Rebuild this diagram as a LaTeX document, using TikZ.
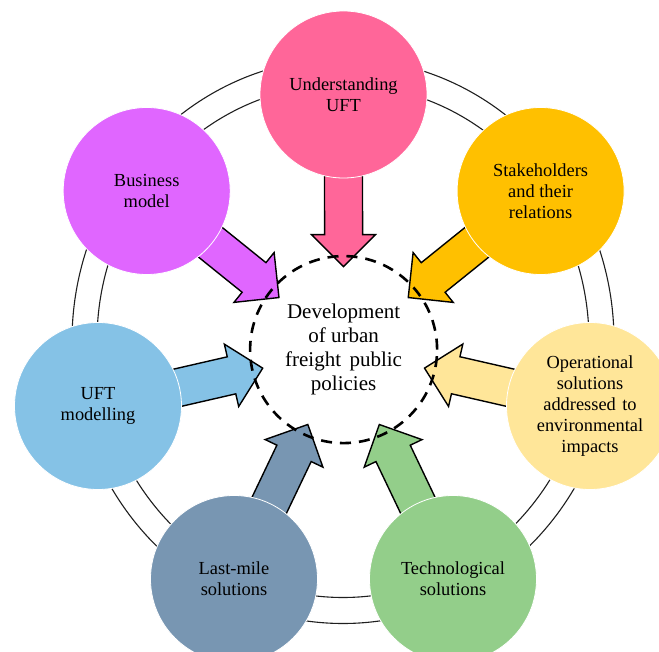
\documentclass[tikz,border=0pt]{standalone}
\usepackage{fontspec}
\setmainfont{Liberation Serif}
\usetikzlibrary{calc}
\pgfdeclarelayer{bg}
\pgfsetlayers{bg,main}
\definecolor{cpink}{RGB}{255,102,153}
\definecolor{cmagenta}{RGB}{224,102,255}
\definecolor{camber}{RGB}{255,192,0}
\definecolor{cpale}{RGB}{255,230,153}
\definecolor{csky}{RGB}{133,194,230}
\definecolor{cslate}{RGB}{120,150,178}
\definecolor{cgreen}{RGB}{147,206,138}
\tikzset{
  topic/.style={circle, minimum size=167pt, inner sep=0pt, draw=white, line width=0.8pt,
    align=center, font=\fontsize{18.4}{21}\selectfont, text=black},
  core/.style={circle, minimum size=187pt, inner sep=0pt, draw=black, line width=2.6pt,
    dash pattern=on 11pt off 8pt, align=center, font=\fontsize{21}{24}\selectfont},
  blockarr/.style={draw=black, line width=1.4pt, line join=miter},
  ringline/.style={draw=black!88, line width=1.1pt}
}
\newcommand{\blockarrow}[3]{%
  \coordinate (#3tip) at ($(D)!83pt!(#1)$);
  \coordinate (#3hb) at ($(#3tip)!32pt!(#1)$);
  \coordinate (#3tl) at ($(#3tip)!150pt!(#1)$);
  \filldraw[blockarr, fill=#2] (#3tip) -- ($(#3hb)!32pt!90:(#1)$) -- ($(#3hb)!19pt!90:(#1)$)
    -- ($(#3tl)!19pt!90:(#1)$) -- ($(#3tl)!19pt!-90:(#1)$) -- ($(#3hb)!19pt!-90:(#1)$)
    -- ($(#3hb)!32pt!-90:(#1)$) -- cycle;
}
\begin{document}
\begin{tikzpicture}[x=1pt,y=-1pt]
\useasboundingbox (0,0) rectangle (659,652);
\coordinate (R) at (343,341);
\node[core] (D) at (343.6,349.6) {Development\\of urban\\freight\hspace{0.4em}public\\policies};
\node[topic, fill=cpink] (U) at (343.5,94.5) {Understanding\\UFT};
\node[topic, fill=cmagenta] (B) at (146.7,191) {Business\\model};
\node[topic, fill=camber] (S) at (540.6,191) {Stakeholders\\and their\\relations};
\node[topic, fill=csky] (M) at (98,406) {UFT\\modelling};
\node[topic, fill=cpale] (O) at (590,406) {Operational\\solutions\\addressed\hspace{0.35em}to\\environmental\\impacts};
\node[topic, fill=cslate] (L) at (234,579) {Last-mile\\solutions};
\node[topic, fill=cgreen] (T) at (453,579) {Technological\\solutions};
\begin{pgfonlayer}{bg}
  \draw[ringline] (R) ellipse [x radius=271pt, y radius=282.5pt];
  \draw[ringline] (R) ellipse [x radius=246pt, y radius=256.5pt];
  \blockarrow{U}{cpink}{u}
  \blockarrow{B}{cmagenta}{b}
  \blockarrow{S}{camber}{s}
  \blockarrow{M}{csky}{m}
  \blockarrow{O}{cpale}{o}
  \blockarrow{L}{cslate}{l}
  \blockarrow{T}{cgreen}{t}
\end{pgfonlayer}
\end{tikzpicture}
\end{document}
